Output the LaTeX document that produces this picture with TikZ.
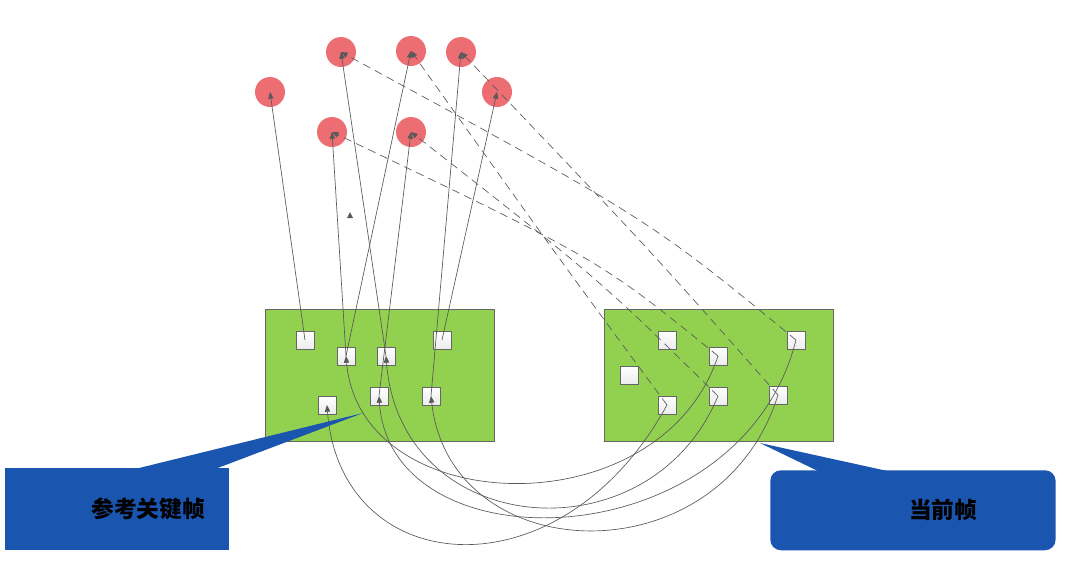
\documentclass[tikz,border=0pt]{standalone}
\usepackage{fontspec}
\newfontfamily\cjk{Noto Sans CJK SC}
\usetikzlibrary{arrows.meta}
\begin{document}
\begin{tikzpicture}[x=0.75pt,y=-0.75pt,
  pt/.style={circle,draw=none,minimum size=22.5pt,inner sep=0},
  sq/.style={draw=gray!80!black,line width=0.6pt,top color=white,bottom color=gray!15,minimum size=13.5pt,inner sep=0},
  link/.style={draw=gray!70!black,line width=0.5pt,-{Triangle[length=5pt,width=4pt]}},
  dlink/.style={link,dash pattern=on 6pt off 4pt}]
\useasboundingbox (0,0) rectangle (1072,572);
\definecolor{fr}{RGB}{146,208,80}
\definecolor{cb}{RGB}{26,86,176}
\definecolor{rd}{RGB}{236,110,115}
\fill[fr,draw=gray!80!black] (265,309) rectangle (494,441);
\fill[fr,draw=gray!80!black] (604,309) rectangle (833,441);
\foreach \n/\x/\y in {A/270/92,B/341/52,C/411/51,D/461/52,E/497/92,F/332/132,G/411/132}
  \node[pt,fill=rd] (\n) at (\x,\y) {};
\foreach \n/\x/\y in {L1/305/340,L2/346/356,L3/386/356,L4/442/340,L5/327/405,L6/379/396,L7/431/396,
  R1/667/340,R2/718/356,R3/629/375,R4/796/340,R5/667/405,R6/718/396,R7/778/395}
  \node[sq] (\n) at (\x,\y) {};
% solid to circles
\draw[link] (L1.center) -- (A.center);
\draw[link] (L3.center) -- (B.center);
\draw[link] (L2.center) -- (C.center);
\draw[link] (L2.center) -- (F.center);
\draw[link] (L6.center) -- (G.center);
\draw[link] (L7.center) -- (D.center);
\draw[link] (L4.center) -- (E.center);
% dashed from current frame
\draw[dlink] (R4.center) .. controls (650,220) .. (B.center);
\draw[dlink] (R5.center) .. controls (560,260) .. (C.center);
\draw[dlink] (R7.center) .. controls (650,250) .. (D.center);
\draw[dlink] (R2.center) .. controls (600,260) .. (F.center);
\draw[dlink] (R6.center) .. controls (600,280) .. (G.center);
% arcs below
\draw[link] (R5.center) .. controls (560,600) and (340,580) .. (L5.center);
\draw[link] (R6.center) .. controls (650,560) and (400,540) .. (L3.center);
\draw[link] (R7.center) .. controls (720,580) and (450,570) .. (L7.center);
\draw[link] (R2.center) .. controls (660,530) and (360,520) .. (L2.center);
\draw[link] (R4.center) .. controls (740,560) and (390,570) .. (L6.center);
\fill[gray!70!black] (350,212) -- (353,218) -- (347,218) -- cycle;
% callouts
\fill[cb] (135,469) -- (363,413) -- (215,469) -- cycle;
\node[fill=cb,minimum width=168pt,minimum height=61.5pt,inner sep=0,anchor=north west] (c1) at (5,468) {};
\node[font=\cjk\bfseries\fontsize{17}{20}\selectfont] (t1) at (148,509) {参考关键帧};
\fill[cb] (820,472) -- (760,443) -- (892,472) -- cycle;
\node[fill=cb,rounded corners=8pt,minimum width=214pt,minimum height=60pt,inner sep=0,anchor=north west] (c2) at (770,470) {};
\node[font=\cjk\bfseries\fontsize{17}{20}\selectfont] (t2) at (943,510) {当前帧};
\end{tikzpicture}
\end{document}
